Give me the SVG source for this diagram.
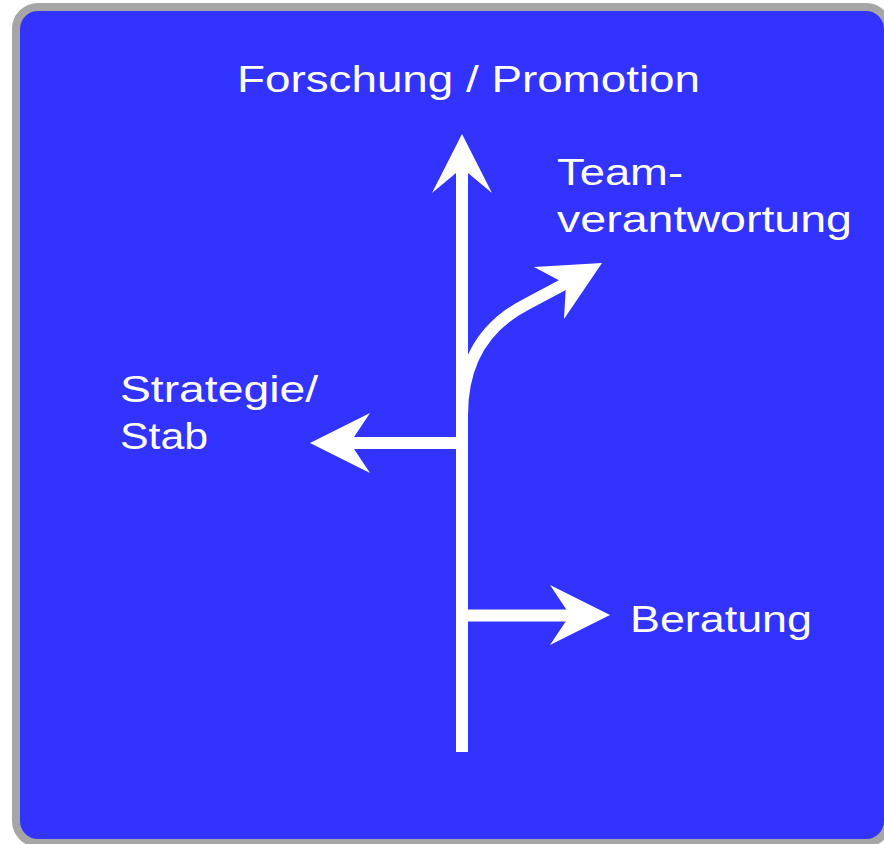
<svg xmlns="http://www.w3.org/2000/svg" width="884" height="844" viewBox="0 0 884 844">
<style>
.lbl{font-family:"Liberation Sans","DejaVu Sans",sans-serif;font-size:37px;fill:#ffffff}
.shaft{stroke:#ffffff;stroke-width:12;fill:none}
.head{fill:#ffffff}
</style>
<rect x="16" y="7" width="872" height="836" rx="22" ry="22" fill="#3333ff" stroke="#a6a6a6" stroke-width="8"/>
<g id="connectors">
  <line class="shaft" x1="462" y1="752" x2="462" y2="165"/>
  <polygon class="head" points="462,134 492,193 462,168 432,193"/>
  <line class="shaft" x1="462" y1="443" x2="345" y2="443"/>
  <polygon class="head" points="310,443 370,413 350,443 370,473"/>
  <line class="shaft" x1="462" y1="615.5" x2="575" y2="615.5"/>
  <polygon class="head" points="610,615 550,585 570,615 550,645"/>
  <path class="shaft" d="M462,440 L462,415 Q462,338 525,305 L570,281"/>
  <polygon class="head" points="602,263 534,267 566,284 564,319"/>
</g>
<g id="node-forschung"><text class="lbl" x="237" y="92" textLength="463" lengthAdjust="spacingAndGlyphs">Forschung / Promotion</text></g>
<g id="node-team">
  <text class="lbl" x="557" y="185" textLength="126" lengthAdjust="spacingAndGlyphs">Team-</text>
  <text class="lbl" x="557" y="232" textLength="295" lengthAdjust="spacingAndGlyphs">verantwortung</text>
</g>
<g id="node-strategie">
  <text class="lbl" x="120" y="402" textLength="198" lengthAdjust="spacingAndGlyphs">Strategie/</text>
  <text class="lbl" x="120" y="449" textLength="88" lengthAdjust="spacingAndGlyphs">Stab</text>
</g>
<g id="node-beratung"><text class="lbl" x="630" y="632" textLength="182" lengthAdjust="spacingAndGlyphs">Beratung</text></g>
</svg>
